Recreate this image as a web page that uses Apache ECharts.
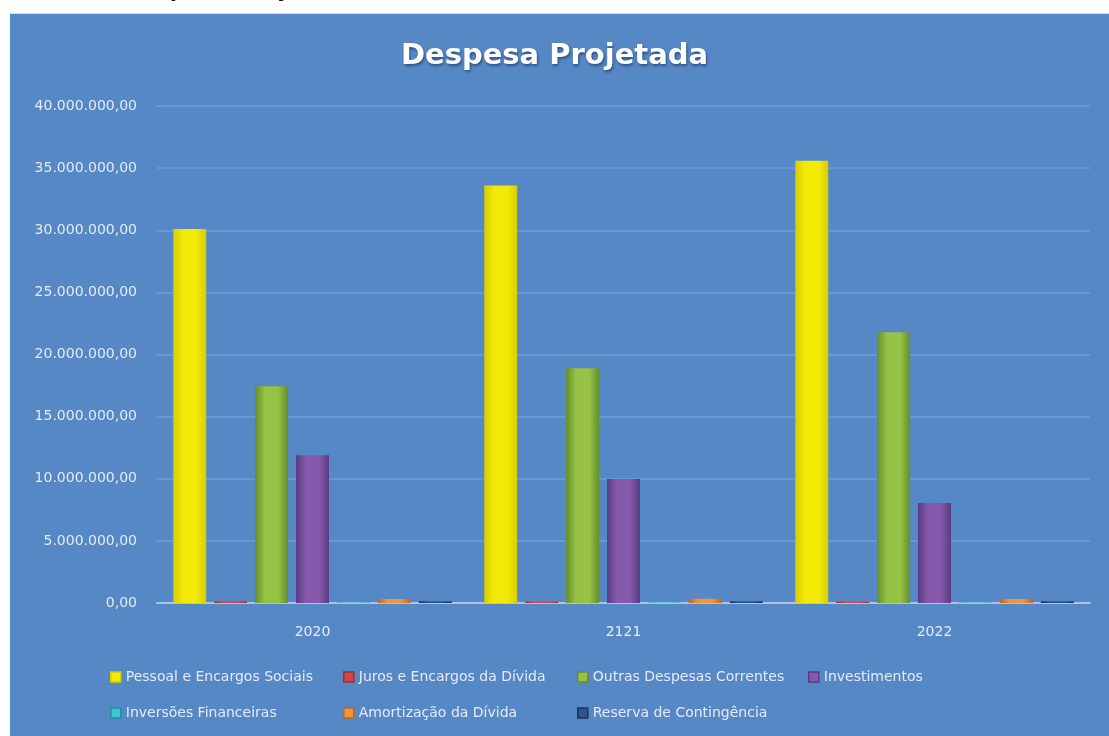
<!DOCTYPE html>
<html>
<head>
<meta charset="utf-8">
<script src="https://cdn.jsdelivr.net/npm/echarts@6/dist/echarts.min.js"></script>
<style>
  html, body { margin: 0; padding: 0; background: #fff; }
  #chart { width: 1109px; height: 736px; }
</style>
</head>
<body>
<div id="chart"></div>
<script>
const categories = ['2020', '2121', '2022']
const seriesNames = [
  'Pessoal e Encargos Sociais',
  'Juros e Encargos da Dívida',
  'Outras Despesas Correntes',
  'Investimentos',
  'Inversões Financeiras',
  'Amortização da Dívida',
  'Reserva de Contingência'
]
const pessoal = [30100000, 33600000, 35600000]
const juros = [120000, 110000, 100000]
const outras = [17450000, 18900000, 21800000]
const investimentos = [11900000, 9980000, 8050000]
const inversoes = [50000, 50000, 50000]
const amortizacao = [320000, 340000, 330000]
const reserva = [150000, 150000, 150000]
const yTickLabels = [
  '0,00', '5.000.000,00', '10.000.000,00', '15.000.000,00', '20.000.000,00',
  '25.000.000,00', '30.000.000,00', '35.000.000,00', '40.000.000,00'
]

const seriesData = [pessoal, juros, outras, investimentos, inversoes, amortizacao, reserva]
// edge / middle colours for the rounded bar shading
const barColors = [
  ['#d6cd00', '#f4ea08'],
  ['#a02c2c', '#d04545'],
  ['#638f2c', '#98c246'],
  ['#583c82', '#8659ac'],
  ['#1e8fa0', '#3fc4d2'],
  ['#c4661a', '#f0963a'],
  ['#1a3560', '#2f5490']
]

function shade(c) {
  return new echarts.graphic.LinearGradient(0, 0, 1, 0, [
    { offset: 0, color: c[0] },
    { offset: 0.3, color: c[1] },
    { offset: 0.7, color: c[1] },
    { offset: 1, color: c[0] }
  ])
}

const chart = echarts.init(document.getElementById('chart'))

const legendCols = [105, 338, 572, 803]
const legends = seriesNames.map((name, i) => ({
  data: [{ name: name, itemStyle: { color: barColors[i][1], borderColor: barColors[i][0], borderWidth: 1.5 } }],
  left: i < 4 ? legendCols[i] : legendCols[i - 4],
  top: i < 4 ? 665 : 701,
  icon: 'rect',
  itemWidth: 10,
  itemHeight: 10,
  itemGap: 4,
  textStyle: { color: '#e4ebf6', fontSize: 14, fontFamily: 'DejaVu Sans' }
}))

const option = {
  backgroundColor: '#5688c6',
  animation: false,
  title: {
    text: 'Despesa Projetada',
    left: 'center',
    top: 37,
    textStyle: {
      color: '#ffffff',
      fontSize: 29,
      fontWeight: 'bold',
      fontFamily: 'DejaVu Sans',
      textShadowColor: 'rgba(20,40,80,0.6)',
      textShadowBlur: 3,
      textShadowOffsetX: 1,
      textShadowOffsetY: 2
    }
  },
  graphic: [
    { type: 'rect', shape: { x: 0, y: 0, width: 1109, height: 13 }, style: { fill: '#ffffff' } },
    { type: 'rect', shape: { x: 0, y: 0, width: 10, height: 736 }, style: { fill: '#ffffff' } },
    { type: 'rect', shape: { x: 10, y: 13, width: 1099, height: 1 }, style: { fill: '#d6dde8' } },
    {
      type: 'text', left: 122, top: -24,
      style: { text: 'Despesa Projetada', fill: '#111', font: 'bold 26px "Liberation Sans"' }
    }
  ],
  legend: legends,
  grid: { left: 157, right: 19, top: 106, bottom: 133 },
  xAxis: {
    type: 'category',
    data: categories,
    axisTick: { show: false },
    axisLine: { lineStyle: { color: '#a9c4e8', width: 2 } },
    axisLabel: { color: '#e4ebf6', fontSize: 14, fontFamily: 'DejaVu Sans', margin: 22 }
  },
  yAxis: {
    type: 'value',
    min: 0,
    max: 40000000,
    interval: 5000000,
    axisLine: { show: false },
    axisTick: { show: false },
    axisLabel: {
      color: '#e4ebf6',
      fontSize: 14,
      fontFamily: 'DejaVu Sans',
      margin: 20,
      formatter: v => yTickLabels[Math.round(v / 5000000)]
    },
    splitLine: { lineStyle: { color: '#6f9bd2', width: 1.5 } }
  },
  series: seriesNames.map((name, i) => ({
    name: name,
    type: 'bar',
    data: seriesData[i],
    barWidth: 33,
    barGap: '24%',
    itemStyle: { color: shade(barColors[i]) }
  }))
}

chart.setOption(option)
</script>
</body>
</html>
